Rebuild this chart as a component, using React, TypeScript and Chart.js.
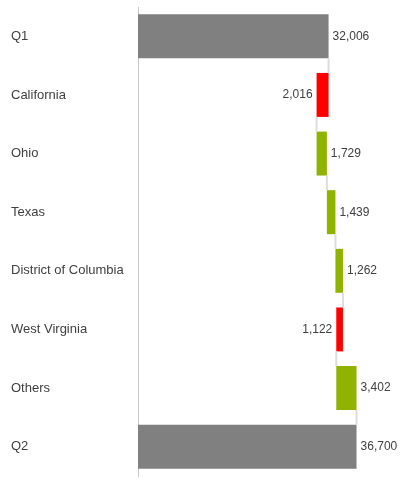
import React, { useEffect, useRef } from 'react';
import { Chart, registerables } from 'chart.js';

Chart.register(...registerables);

// waterfall: first and last are totals, the rest are changes
const categories = ['Q1', 'California', 'Ohio', 'Texas', 'District of Columbia', 'West Virginia', 'Others', 'Q2'];
const values = [32006, -2016, 1729, 1439, 1262, -1122, 3402, 36700];
const isTotal = [true, false, false, false, false, false, false, true];

const TOTAL_COLOR = '#808080';
const UP_COLOR = '#8fb300';
const DOWN_COLOR = '#ff0000';
const TEXT_COLOR = '#404040';

// floating bar ranges + running total after each bar
const ranges: [number, number][] = [];
const runEnd: number[] = [];
let running = 0;
values.forEach((v, i) => {
  if (isTotal[i]) {
    ranges.push([0, v]);
    running = v;
  } else {
    ranges.push([running, running + v]);
    running += v;
  }
  runEnd.push(running);
});

const waterfallExtras = {
  id: 'waterfallExtras',
  afterDatasetsDraw(chart: any) {
    const { ctx } = chart;
    const xScale = chart.scales.x;
    const bars = chart.getDatasetMeta(0).data;

    // connectors
    ctx.save();
    ctx.strokeStyle = '#dddddd';
    ctx.lineWidth = 2;
    for (let i = 0; i < bars.length - 1; i++) {
      const a = bars[i].getProps(['y', 'height'], true);
      const b = bars[i + 1].getProps(['y', 'height'], true);
      const x = xScale.getPixelForValue(runEnd[i]);
      ctx.beginPath();
      ctx.moveTo(x, a.y + a.height / 2);
      ctx.lineTo(x, b.y - b.height / 2);
      ctx.stroke();
    }

    // value labels
    ctx.font = '12px "Liberation Sans", Arial, sans-serif';
    ctx.fillStyle = TEXT_COLOR;
    ctx.textBaseline = 'middle';
    bars.forEach((bar: any, i: number) => {
      const { y } = bar.getProps(['y'], true);
      const [lo, hi] = ranges[i];
      const text = Math.abs(values[i]).toLocaleString('en-US');
      if (values[i] < 0) {
        ctx.textAlign = 'right';
        ctx.fillText(text, xScale.getPixelForValue(Math.min(lo, hi)) - 4, y);
      } else {
        ctx.textAlign = 'left';
        ctx.fillText(text, xScale.getPixelForValue(Math.max(lo, hi)) + 4, y);
      }
    });
    ctx.restore();
  },
};

const WaterfallChart = () => {
  const chartRef = useRef<HTMLCanvasElement>(null);

  useEffect(() => {
    const chart = new Chart(chartRef.current as HTMLCanvasElement, {
      type: 'bar',
      data: {
        labels: categories,
        datasets: [
          {
            data: ranges as any,
            backgroundColor: values.map((v, i) => (isTotal[i] ? TOTAL_COLOR : v < 0 ? DOWN_COLOR : UP_COLOR)),
            borderWidth: 0,
            borderSkipped: false,
            barPercentage: 0.75,
            categoryPercentage: 1,
          },
        ],
      },
      options: {
        indexAxis: 'y',
        animation: false,
        responsive: true,
        maintainAspectRatio: false,
        layout: { padding: { top: 7, bottom: 4, left: 11, right: 8 } },
        plugins: {
          legend: { display: false },
          tooltip: { enabled: false },
        },
        scales: {
          x: {
            display: false,
            min: 0,
            max: 44000,
          },
          y: {
            grid: { display: false },
            border: { display: true, color: '#c8c8c8', width: 1 },
            ticks: {
              crossAlign: 'far',
              padding: 0,
              color: TEXT_COLOR,
              font: { size: 13, family: '"Liberation Sans", Arial, sans-serif' },
            },
            afterFit: (scale: any) => {
              scale.width = 127;
              // drop the half-label padding so the layout padding rules
              scale.paddingTop = 0;
              scale.paddingBottom = 0;
            },
          },
        },
      },
      plugins: [waterfallExtras],
    });

    return () => chart.destroy();
  }, []);

  return (
    <div style={{ position: 'absolute', left: 0, top: 0, width: 408, height: 480, background: '#fff' }}>
      <canvas ref={chartRef} />
    </div>
  );
};

export default function App() {
  return <WaterfallChart />;
}
